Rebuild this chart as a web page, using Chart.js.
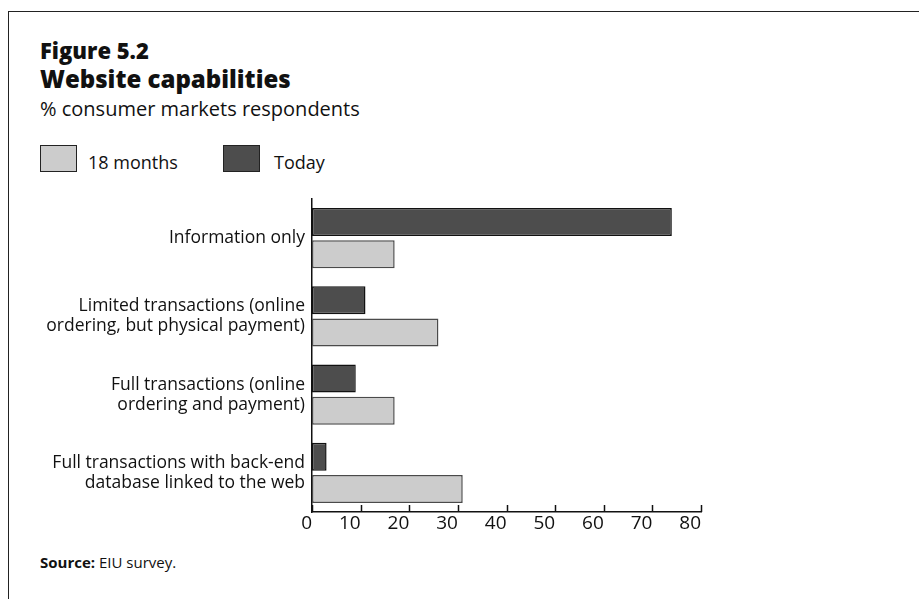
<!DOCTYPE html>
<html>
<head>
<meta charset="utf-8">
<script src="https://cdn.jsdelivr.net/npm/chart.js@4.4.0/dist/chart.umd.min.js"></script>
<style>
  html, body { margin: 0; padding: 0; background: #fff; }
  body { width: 919px; height: 599px; position: relative; overflow: hidden; font-family: "Open Sans", sans-serif; color: #111; }
  #frame { position: absolute; left: 8px; top: 11px; right: -2px; bottom: -2px; border-top: 1.5px solid #222; border-left: 1.5px solid #222; }
  .txt { position: absolute; white-space: nowrap; line-height: 1; }
  #fig { left: 40px; top: 39px; font-size: 22px; font-weight: 800; }
  #title { left: 40px; top: 67px; font-size: 24px; font-weight: 800; }
  #sub { left: 40px; top: 99px; font-size: 20px; }
  .swatch { position: absolute; top: 145px; width: 35px; height: 25px; border: 1.5px solid #222; }
  #sw1 { left: 40px; background: #cccccc; }
  #sw2 { left: 223px; background: #4d4d4d; }
  .leg { top: 153px; font-size: 18px; }
  #leg1 { left: 88px; }
  #leg2 { left: 274px; }
  #source { left: 40px; top: 555px; font-size: 15px; }
  #wrap { position: absolute; left: 0; top: 190px; width: 919px; height: 350px; }
</style>
</head>
<body>
<div id="frame"></div>
<div class="txt" id="fig">Figure 5.2</div>
<div class="txt" id="title">Website capabilities</div>
<div class="txt" id="sub">% consumer markets respondents</div>
<div class="swatch" id="sw1"></div>
<div class="txt leg" id="leg1">18 months</div>
<div class="swatch" id="sw2"></div>
<div class="txt leg" id="leg2">Today</div>
<div class="txt" id="source"><b>Source:</b> EIU survey.</div>
<div id="wrap"><canvas id="chart"></canvas></div>

<script>
const categories = [
    ['Information only'],
    ['Limited transactions (online', 'ordering, but physical payment)'],
    ['Full transactions (online', 'ordering and payment)'],
    ['Full transactions with back-end', 'database linked to the web'],
];
const todayValues = [74, 11, 9, 3];
const months18Values = [17, 26, 17, 31];
const xMin = 0;
const xMax = 80;
const xStep = 10;

// small upward tick marks on the value axis
const tickMarks = {
    id: 'tickMarks',
    afterDraw(chart) {
        const ctx = chart.ctx;
        const x = chart.scales.x;
        ctx.save();
        ctx.strokeStyle = '#111';
        ctx.lineWidth = 1.5;
        x.ticks.forEach(t => {
            const px = Math.round(x.getPixelForValue(t.value)) + 0.5;
            ctx.beginPath();
            ctx.moveTo(px, x.top);
            ctx.lineTo(px, x.top - 7);
            ctx.stroke();
        });
        ctx.restore();
    }
};

new Chart(document.getElementById('chart'), {
    type: 'bar',
    data: {
        labels: categories,
        datasets: [
            {
                label: 'Today',
                data: todayValues,
                backgroundColor: '#4d4d4d',
                borderColor: '#111',
                borderWidth: 1.5,
                borderSkipped: false,
            },
            {
                label: '18 months',
                data: months18Values,
                backgroundColor: '#cccccc',
                borderColor: '#4a4a4a',
                borderWidth: 1.5,
                borderSkipped: false,
            }
        ]
    },
    options: {
        indexAxis: 'y',
        responsive: true,
        maintainAspectRatio: false,
        animation: false,
        categoryPercentage: 0.82,
        barPercentage: 0.875,
        layout: { padding: { top: 9, right: 218, left: 0, bottom: 0 } },
        plugins: {
            legend: { display: false },
            tooltip: { enabled: false },
        },
        scales: {
            x: {
                min: xMin,
                max: xMax,
                grid: { display: false, drawTicks: false },
                border: { display: true, color: '#111', width: 1.5 },
                ticks: {
                    stepSize: xStep,
                    align: 'end',
                    padding: 0,
                    color: '#111',
                    font: { family: 'Open Sans', size: 19 },
                },
                afterFit(scale) {
                    scale.height = 28;
                    scale.paddingLeft = 0;
                    scale.paddingRight = 0;
                },
            },
            y: {
                grid: { display: false, drawTicks: false },
                border: { display: true, color: '#111', width: 1.5 },
                ticks: {
                    padding: 7,
                    color: '#111',
                    font: { family: 'Open Sans', size: 17.5, lineHeight: 1.15 },
                },
                afterFit(scale) {
                    scale.width = 312;
                    scale.paddingTop = 0;
                    scale.paddingBottom = 0;
                },
            }
        }
    },
    plugins: [tickMarks]
});
</script>
</body>
</html>
